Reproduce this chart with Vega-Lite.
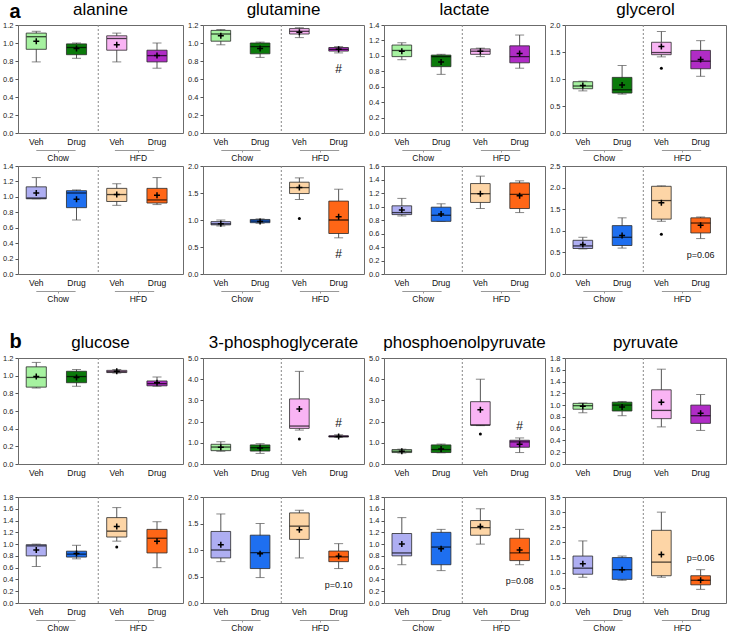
{
"$schema":"https://vega.github.io/schema/vega-lite/v6.json",
"padding":{"left":2,"top":0,"right":0,"bottom":0},
"data":{"values":[
{"m":"alanine","s":"1","g":"Chow Veh","min":0.79,"q1":0.93,"med":1.07,"q3":1.11,"max":1.13,"mean":1.02},
{"m":"alanine","s":"1","g":"Chow Drug","min":0.83,"q1":0.87,"med":0.95,"q3":0.99,"max":1.0,"mean":0.94},
{"m":"alanine","s":"1","g":"HFD Veh","min":0.79,"q1":0.92,"med":1.05,"q3":1.08,"max":1.11,"mean":0.98},
{"m":"alanine","s":"1","g":"HFD Drug","min":0.72,"q1":0.79,"med":0.86,"q3":0.92,"max":1.0,"mean":0.86},
{"m":"glutamine","s":"1","g":"Chow Veh","min":0.98,"q1":1.02,"med":1.1,"q3":1.14,"max":1.15,"mean":1.08},
{"m":"glutamine","s":"1","g":"Chow Drug","min":0.84,"q1":0.88,"med":0.96,"q3":1.0,"max":1.01,"mean":0.94},
{"m":"glutamine","s":"1","g":"HFD Veh","min":1.06,"q1":1.1,"med":1.13,"q3":1.16,"max":1.17,"mean":1.12},
{"m":"glutamine","s":"1","g":"HFD Drug","min":0.89,"q1":0.91,"med":0.93,"q3":0.95,"max":0.96,"mean":0.93,"nb":"#"},
{"m":"lactate","s":"1","g":"Chow Veh","min":0.95,"q1":0.99,"med":1.07,"q3":1.14,"max":1.17,"mean":1.06},
{"m":"lactate","s":"1","g":"Chow Drug","min":0.76,"q1":0.86,"med":0.99,"q3":1.01,"max":1.02,"mean":0.92},
{"m":"lactate","s":"1","g":"HFD Veh","min":0.99,"q1":1.02,"med":1.06,"q3":1.09,"max":1.1,"mean":1.06},
{"m":"lactate","s":"1","g":"HFD Drug","min":0.84,"q1":0.91,"med":0.99,"q3":1.13,"max":1.27,"mean":1.03},
{"m":"glycerol","s":"1","g":"Chow Veh","min":0.78,"q1":0.82,"med":0.87,"q3":0.95,"max":0.96,"mean":0.88},
{"m":"glycerol","s":"1","g":"Chow Drug","min":0.72,"q1":0.74,"med":0.8,"q3":1.03,"max":1.25,"mean":0.89},
{"m":"glycerol","s":"1","g":"HFD Veh","min":1.41,"q1":1.45,"med":1.49,"q3":1.68,"max":1.88,"mean":1.6,"out":1.2},
{"m":"glycerol","s":"1","g":"HFD Drug","min":1.05,"q1":1.19,"med":1.33,"q3":1.53,"max":1.71,"mean":1.36},
{"m":"alanine","s":"2","g":"Chow Veh","min":0.975,"q1":0.975,"med":0.985,"q3":1.13,"max":1.25,"mean":1.05},
{"m":"alanine","s":"2","g":"Chow Drug","min":0.7,"q1":0.86,"med":1.05,"q3":1.08,"max":1.09,"mean":0.97},
{"m":"alanine","s":"2","g":"HFD Veh","min":0.89,"q1":0.94,"med":1.03,"q3":1.11,"max":1.17,"mean":1.03},
{"m":"alanine","s":"2","g":"HFD Drug","min":0.9,"q1":0.92,"med":0.96,"q3":1.11,"max":1.25,"mean":1.02},
{"m":"glutamine","s":"2","g":"Chow Veh","min":0.89,"q1":0.91,"med":0.93,"q3":0.97,"max":1.0,"mean":0.93},
{"m":"glutamine","s":"2","g":"Chow Drug","min":0.94,"q1":0.95,"med":0.98,"q3":1.01,"max":1.02,"mean":0.97},
{"m":"glutamine","s":"2","g":"HFD Veh","min":1.38,"q1":1.49,"med":1.6,"q3":1.7,"max":1.78,"mean":1.6,"out":1.03},
{"m":"glutamine","s":"2","g":"HFD Drug","min":0.67,"q1":0.75,"med":1.0,"q3":1.35,"max":1.57,"mean":1.06,"nb":"#"},
{"m":"lactate","s":"2","g":"Chow Veh","min":0.86,"q1":0.88,"med":0.91,"q3":1.01,"max":1.12,"mean":0.95},
{"m":"lactate","s":"2","g":"Chow Drug","min":0.78,"q1":0.78,"med":0.87,"q3":0.99,"max":1.04,"mean":0.89},
{"m":"lactate","s":"2","g":"HFD Veh","min":0.97,"q1":1.06,"med":1.19,"q3":1.34,"max":1.45,"mean":1.19},
{"m":"lactate","s":"2","g":"HFD Drug","min":0.91,"q1":0.97,"med":1.18,"q3":1.35,"max":1.38,"mean":1.16},
{"m":"glycerol","s":"2","g":"Chow Veh","min":0.58,"q1":0.59,"med":0.65,"q3":0.78,"max":0.85,"mean":0.68},
{"m":"glycerol","s":"2","g":"Chow Drug","min":0.6,"q1":0.66,"med":0.85,"q3":1.12,"max":1.3,"mean":0.89},
{"m":"glycerol","s":"2","g":"HFD Veh","min":1.22,"q1":1.27,"med":1.7,"q3":2.03,"max":2.04,"mean":1.65,"out":0.92},
{"m":"glycerol","s":"2","g":"HFD Drug","min":0.82,"q1":0.95,"med":1.18,"q3":1.3,"max":1.32,"mean":1.13,"nb":"p=0.06"},
{"m":"glucose","s":"1","g":"Chow Veh","min":0.86,"q1":0.87,"med":0.98,"q3":1.1,"max":1.15,"mean":0.99},
{"m":"glucose","s":"1","g":"Chow Drug","min":0.88,"q1":0.92,"med":0.99,"q3":1.05,"max":1.07,"mean":0.98},
{"m":"glucose","s":"1","g":"HFD Veh","min":1.03,"q1":1.035,"med":1.045,"q3":1.06,"max":1.07,"mean":1.05},
{"m":"glucose","s":"1","g":"HFD Drug","min":0.88,"q1":0.885,"med":0.91,"q3":0.94,"max":0.985,"mean":0.92},
{"m":"3-phosphoglycerate","s":"1","g":"Chow Veh","min":0.6,"q1":0.63,"med":0.8,"q3":0.93,"max":1.05,"mean":0.79},
{"m":"3-phosphoglycerate","s":"1","g":"Chow Drug","min":0.5,"q1":0.61,"med":0.77,"q3":0.9,"max":0.96,"mean":0.75},
{"m":"3-phosphoglycerate","s":"1","g":"HFD Veh","min":1.6,"q1":1.68,"med":1.79,"q3":3.07,"max":4.37,"mean":2.59,"out":1.18},
{"m":"3-phosphoglycerate","s":"1","g":"HFD Drug","min":1.26,"q1":1.27,"med":1.3,"q3":1.33,"max":1.38,"mean":1.3,"na":"#"},
{"m":"phosphoenolpyruvate","s":"1","g":"Chow Veh","min":0.52,"q1":0.54,"med":0.6,"q3":0.68,"max":0.7,"mean":0.6},
{"m":"phosphoenolpyruvate","s":"1","g":"Chow Drug","min":0.53,"q1":0.54,"med":0.68,"q3":0.9,"max":0.94,"mean":0.71},
{"m":"phosphoenolpyruvate","s":"1","g":"HFD Veh","min":1.81,"q1":1.83,"med":1.84,"q3":2.94,"max":4.0,"mean":2.56,"out":1.42},
{"m":"phosphoenolpyruvate","s":"1","g":"HFD Drug","min":0.54,"q1":0.79,"med":1.04,"q3":1.12,"max":1.23,"mean":0.93,"na":"#"},
{"m":"pyruvate","s":"1","g":"Chow Veh","min":0.87,"q1":0.93,"med":0.99,"q3":1.03,"max":1.035,"mean":0.98},
{"m":"pyruvate","s":"1","g":"Chow Drug","min":0.82,"q1":0.9,"med":1.0,"q3":1.05,"max":1.06,"mean":0.97},
{"m":"pyruvate","s":"1","g":"HFD Veh","min":0.63,"q1":0.77,"med":0.91,"q3":1.26,"max":1.61,"mean":1.05},
{"m":"pyruvate","s":"1","g":"HFD Drug","min":0.57,"q1":0.69,"med":0.82,"q3":1.0,"max":1.18,"mean":0.86},
{"m":"glucose","s":"2","g":"Chow Veh","min":0.62,"q1":0.8,"med":0.97,"q3":0.99,"max":1.0,"mean":0.9},
{"m":"glucose","s":"2","g":"Chow Drug","min":0.75,"q1":0.78,"med":0.83,"q3":0.88,"max":0.98,"mean":0.84},
{"m":"glucose","s":"2","g":"HFD Veh","min":1.05,"q1":1.12,"med":1.22,"q3":1.45,"max":1.62,"mean":1.3,"out":0.95},
{"m":"glucose","s":"2","g":"HFD Drug","min":0.6,"q1":0.85,"med":1.1,"q3":1.25,"max":1.38,"mean":1.05},
{"m":"3-phosphoglycerate","s":"2","g":"Chow Veh","min":0.78,"q1":0.85,"med":1.0,"q3":1.35,"max":1.68,"mean":1.1},
{"m":"3-phosphoglycerate","s":"2","g":"Chow Drug","min":0.48,"q1":0.65,"med":0.95,"q3":1.28,"max":1.5,"mean":0.93},
{"m":"3-phosphoglycerate","s":"2","g":"HFD Veh","min":0.85,"q1":1.2,"med":1.45,"q3":1.7,"max":1.75,"mean":1.38},
{"m":"3-phosphoglycerate","s":"2","g":"HFD Drug","min":0.65,"q1":0.78,"med":0.87,"q3":0.98,"max":1.12,"mean":0.88,"nb":"p=0.10"},
{"m":"phosphoenolpyruvate","s":"2","g":"Chow Veh","min":0.65,"q1":0.8,"med":0.85,"q3":1.18,"max":1.45,"mean":1.0},
{"m":"phosphoenolpyruvate","s":"2","g":"Chow Drug","min":0.55,"q1":0.65,"med":0.95,"q3":1.2,"max":1.25,"mean":0.92},
{"m":"phosphoenolpyruvate","s":"2","g":"HFD Veh","min":1.0,"q1":1.15,"med":1.28,"q3":1.4,"max":1.6,"mean":1.3},
{"m":"phosphoenolpyruvate","s":"2","g":"HFD Drug","min":0.65,"q1":0.72,"med":0.85,"q3":1.1,"max":1.25,"mean":0.9,"nb":"p=0.08"},
{"m":"pyruvate","s":"2","g":"Chow Veh","min":0.85,"q1":0.95,"med":1.15,"q3":1.55,"max":2.05,"mean":1.3},
{"m":"pyruvate","s":"2","g":"Chow Drug","min":0.75,"q1":0.78,"med":1.1,"q3":1.5,"max":1.55,"mean":1.1},
{"m":"pyruvate","s":"2","g":"HFD Veh","min":0.85,"q1":0.9,"med":1.35,"q3":2.4,"max":3.0,"mean":1.6},
{"m":"pyruvate","s":"2","g":"HFD Drug","min":0.45,"q1":0.6,"med":0.75,"q3":0.9,"max":1.1,"mean":0.75,"na":"p=0.06"}
]},
"transform":[{"calculate":"datum.s + ' ' + datum.g","as":"ck"}],
"columns":4,
"spacing":{"row":33,"column":20},
"bounds":"flush",
"resolve":{"scale":{"x":"independent","y":"independent"}},
"concat":[
{"width":165,"height":108,"title":{"text":"alanine","dy":20},"transform":[{"filter":"datum.m==='alanine'&&datum.s==='1'"}],"resolve":{"scale":{"x":"independent"}},"layer":[
{"transform":[{"filter":"datum.g==='Chow Veh'"}],"mark":{"type":"rule","strokeDash":[2,2],"color":"#888"},"encoding":{"x":{"datum":"HFD","type":"nominal","bandPosition":0,"scale":{"domain":["Chow","HFD"],"paddingInner":0,"paddingOuter":0.028,"align":0},"axis":{"orient":"bottom","offset":17,"domain":true,"domainColor":"#999","domainDash":[39.3,39.3],"domainDashOffset":60.8,"ticks":true,"tickSize":2,"tickColor":"#999","labelPadding":1,"title":null}}}},
{"encoding":{"x":{"field":"g","type":"nominal","scale":{"domain":["Chow Veh","Chow Drug","HFD Veh","HFD Drug"],"paddingInner":0.5,"paddingOuter":0.3,"align":0.34},"axis":{"orient":"bottom","labelExpr":"replace(replace(datum.label,'Chow ',''),'HFD ','')","title":null}}},"layer":[
{"mark":{"type":"rule","color":"#555"},"encoding":{"y":{"field":"min","type":"quantitative"},"y2":{"field":"max"}}},
{"mark":{"type":"tick","color":"#555","size":9},"encoding":{"y":{"field":"min","type":"quantitative"}}},
{"mark":{"type":"tick","color":"#555","size":9},"encoding":{"y":{"field":"max","type":"quantitative"}}},
{"mark":{"type":"bar","stroke":"#2a2a2a","strokeWidth":0.8},"encoding":{"y":{"field":"q1","type":"quantitative","scale":{"domain":[0,1.2],"nice":false},"axis":{"orient":"left","values":[0,0.2,0.4,0.6,0.8,1,1.2],"tickCount":20,"format":".1f","title":"a","titleAngle":0,"titleX":-9,"titleY":-8,"titleAlign":"left","titleBaseline":"alphabetic","titleFontSize":20,"titleFontWeight":"bold","titleColor":"#000"}},"y2":{"field":"q3"},"color":{"field":"ck","type":"nominal","scale":{"domain":["1 Chow Veh","1 Chow Drug","1 HFD Veh","1 HFD Drug","2 Chow Veh","2 Chow Drug","2 HFD Veh","2 HFD Drug"],"range":["#a6f2a0","#0b7a0b","#f9b4f4","#b02cc6","#aeaef2","#1e6ff0","#fdd5a6","#ff6616"]},"legend":null}}},
{"mark":{"type":"tick","color":"#000","size":19.5,"thickness":1.3},"encoding":{"y":{"field":"med","type":"quantitative"}}},
{"mark":{"type":"point","shape":"M-1,0H1M0,-1V1","filled":false,"color":"#000","strokeWidth":1.5,"size":36,"opacity":1},"encoding":{"y":{"field":"mean","type":"quantitative"}}},
{"mark":{"type":"point","shape":"circle","filled":true,"color":"#000","size":9,"opacity":1},"encoding":{"y":{"field":"out","type":"quantitative"}}},
{"transform":[{"filter":"isValid(datum.nb)"}],"mark":{"type":"text","dy":16,"baseline":"middle","color":"#111"},"encoding":{"y":{"field":"min","type":"quantitative"},"text":{"field":"nb"},"size":{"condition":{"test":"datum.nb==='#'","value":12},"value":9}}},
{"transform":[{"filter":"isValid(datum.na)"}],"mark":{"type":"text","dy":-12,"baseline":"middle","color":"#111"},"encoding":{"y":{"field":"max","type":"quantitative"},"text":{"field":"na"},"size":{"condition":{"test":"datum.na==='#'","value":12},"value":9}}}
]}]},
{"width":161,"height":108,"title":"glutamine","transform":[{"filter":"datum.m==='glutamine'&&datum.s==='1'"}],"resolve":{"scale":{"x":"independent"}},"layer":[
{"transform":[{"filter":"datum.g==='Chow Veh'"}],"mark":{"type":"rule","strokeDash":[2,2],"color":"#888"},"encoding":{"x":{"datum":"HFD","type":"nominal","bandPosition":0,"scale":{"domain":["Chow","HFD"],"paddingInner":0,"paddingOuter":0.028,"align":0},"axis":{"orient":"bottom","offset":17,"domain":true,"domainColor":"#999","domainDash":[39.3,39.3],"domainDashOffset":60.8,"ticks":true,"tickSize":2,"tickColor":"#999","labelPadding":1,"title":null}}}},
{"encoding":{"x":{"field":"g","type":"nominal","scale":{"domain":["Chow Veh","Chow Drug","HFD Veh","HFD Drug"],"paddingInner":0.5,"paddingOuter":0.3,"align":0.34},"axis":{"orient":"bottom","labelExpr":"replace(replace(datum.label,'Chow ',''),'HFD ','')","title":null}}},"layer":[
{"mark":{"type":"rule","color":"#555"},"encoding":{"y":{"field":"min","type":"quantitative"},"y2":{"field":"max"}}},
{"mark":{"type":"tick","color":"#555","size":9},"encoding":{"y":{"field":"min","type":"quantitative"}}},
{"mark":{"type":"tick","color":"#555","size":9},"encoding":{"y":{"field":"max","type":"quantitative"}}},
{"mark":{"type":"bar","stroke":"#2a2a2a","strokeWidth":0.8},"encoding":{"y":{"field":"q1","type":"quantitative","scale":{"domain":[0,1.2],"nice":false},"axis":{"orient":"left","values":[0,0.2,0.4,0.6,0.8,1,1.2],"tickCount":20,"format":".1f","title":null}},"y2":{"field":"q3"},"color":{"field":"ck","type":"nominal","scale":{"domain":["1 Chow Veh","1 Chow Drug","1 HFD Veh","1 HFD Drug","2 Chow Veh","2 Chow Drug","2 HFD Veh","2 HFD Drug"],"range":["#a6f2a0","#0b7a0b","#f9b4f4","#b02cc6","#aeaef2","#1e6ff0","#fdd5a6","#ff6616"]},"legend":null}}},
{"mark":{"type":"tick","color":"#000","size":19.5,"thickness":1.3},"encoding":{"y":{"field":"med","type":"quantitative"}}},
{"mark":{"type":"point","shape":"M-1,0H1M0,-1V1","filled":false,"color":"#000","strokeWidth":1.5,"size":36,"opacity":1},"encoding":{"y":{"field":"mean","type":"quantitative"}}},
{"mark":{"type":"point","shape":"circle","filled":true,"color":"#000","size":9,"opacity":1},"encoding":{"y":{"field":"out","type":"quantitative"}}},
{"transform":[{"filter":"isValid(datum.nb)"}],"mark":{"type":"text","dy":16,"baseline":"middle","color":"#111"},"encoding":{"y":{"field":"min","type":"quantitative"},"text":{"field":"nb"},"size":{"condition":{"test":"datum.nb==='#'","value":12},"value":9}}},
{"transform":[{"filter":"isValid(datum.na)"}],"mark":{"type":"text","dy":-12,"baseline":"middle","color":"#111"},"encoding":{"y":{"field":"max","type":"quantitative"},"text":{"field":"na"},"size":{"condition":{"test":"datum.na==='#'","value":12},"value":9}}}
]}]},
{"width":161,"height":108,"title":"lactate","transform":[{"filter":"datum.m==='lactate'&&datum.s==='1'"}],"resolve":{"scale":{"x":"independent"}},"layer":[
{"transform":[{"filter":"datum.g==='Chow Veh'"}],"mark":{"type":"rule","strokeDash":[2,2],"color":"#888"},"encoding":{"x":{"datum":"HFD","type":"nominal","bandPosition":0,"scale":{"domain":["Chow","HFD"],"paddingInner":0,"paddingOuter":0.028,"align":0},"axis":{"orient":"bottom","offset":17,"domain":true,"domainColor":"#999","domainDash":[39.3,39.3],"domainDashOffset":60.8,"ticks":true,"tickSize":2,"tickColor":"#999","labelPadding":1,"title":null}}}},
{"encoding":{"x":{"field":"g","type":"nominal","scale":{"domain":["Chow Veh","Chow Drug","HFD Veh","HFD Drug"],"paddingInner":0.5,"paddingOuter":0.3,"align":0.34},"axis":{"orient":"bottom","labelExpr":"replace(replace(datum.label,'Chow ',''),'HFD ','')","title":null}}},"layer":[
{"mark":{"type":"rule","color":"#555"},"encoding":{"y":{"field":"min","type":"quantitative"},"y2":{"field":"max"}}},
{"mark":{"type":"tick","color":"#555","size":9},"encoding":{"y":{"field":"min","type":"quantitative"}}},
{"mark":{"type":"tick","color":"#555","size":9},"encoding":{"y":{"field":"max","type":"quantitative"}}},
{"mark":{"type":"bar","stroke":"#2a2a2a","strokeWidth":0.8},"encoding":{"y":{"field":"q1","type":"quantitative","scale":{"domain":[0,1.4],"nice":false},"axis":{"orient":"left","values":[0,0.2,0.4,0.6,0.8,1,1.2,1.4],"tickCount":20,"format":".1f","title":null}},"y2":{"field":"q3"},"color":{"field":"ck","type":"nominal","scale":{"domain":["1 Chow Veh","1 Chow Drug","1 HFD Veh","1 HFD Drug","2 Chow Veh","2 Chow Drug","2 HFD Veh","2 HFD Drug"],"range":["#a6f2a0","#0b7a0b","#f9b4f4","#b02cc6","#aeaef2","#1e6ff0","#fdd5a6","#ff6616"]},"legend":null}}},
{"mark":{"type":"tick","color":"#000","size":19.5,"thickness":1.3},"encoding":{"y":{"field":"med","type":"quantitative"}}},
{"mark":{"type":"point","shape":"M-1,0H1M0,-1V1","filled":false,"color":"#000","strokeWidth":1.5,"size":36,"opacity":1},"encoding":{"y":{"field":"mean","type":"quantitative"}}},
{"mark":{"type":"point","shape":"circle","filled":true,"color":"#000","size":9,"opacity":1},"encoding":{"y":{"field":"out","type":"quantitative"}}},
{"transform":[{"filter":"isValid(datum.nb)"}],"mark":{"type":"text","dy":16,"baseline":"middle","color":"#111"},"encoding":{"y":{"field":"min","type":"quantitative"},"text":{"field":"nb"},"size":{"condition":{"test":"datum.nb==='#'","value":12},"value":9}}},
{"transform":[{"filter":"isValid(datum.na)"}],"mark":{"type":"text","dy":-12,"baseline":"middle","color":"#111"},"encoding":{"y":{"field":"max","type":"quantitative"},"text":{"field":"na"},"size":{"condition":{"test":"datum.na==='#'","value":12},"value":9}}}
]}]},
{"width":161,"height":108,"title":"glycerol","transform":[{"filter":"datum.m==='glycerol'&&datum.s==='1'"}],"resolve":{"scale":{"x":"independent"}},"layer":[
{"transform":[{"filter":"datum.g==='Chow Veh'"}],"mark":{"type":"rule","strokeDash":[2,2],"color":"#888"},"encoding":{"x":{"datum":"HFD","type":"nominal","bandPosition":0,"scale":{"domain":["Chow","HFD"],"paddingInner":0,"paddingOuter":0.028,"align":0},"axis":{"orient":"bottom","offset":17,"domain":true,"domainColor":"#999","domainDash":[39.3,39.3],"domainDashOffset":60.8,"ticks":true,"tickSize":2,"tickColor":"#999","labelPadding":1,"title":null}}}},
{"encoding":{"x":{"field":"g","type":"nominal","scale":{"domain":["Chow Veh","Chow Drug","HFD Veh","HFD Drug"],"paddingInner":0.5,"paddingOuter":0.3,"align":0.34},"axis":{"orient":"bottom","labelExpr":"replace(replace(datum.label,'Chow ',''),'HFD ','')","title":null}}},"layer":[
{"mark":{"type":"rule","color":"#555"},"encoding":{"y":{"field":"min","type":"quantitative"},"y2":{"field":"max"}}},
{"mark":{"type":"tick","color":"#555","size":9},"encoding":{"y":{"field":"min","type":"quantitative"}}},
{"mark":{"type":"tick","color":"#555","size":9},"encoding":{"y":{"field":"max","type":"quantitative"}}},
{"mark":{"type":"bar","stroke":"#2a2a2a","strokeWidth":0.8},"encoding":{"y":{"field":"q1","type":"quantitative","scale":{"domain":[0,2],"nice":false},"axis":{"orient":"left","values":[0,0.5,1,1.5,2],"tickCount":20,"format":".1f","title":null}},"y2":{"field":"q3"},"color":{"field":"ck","type":"nominal","scale":{"domain":["1 Chow Veh","1 Chow Drug","1 HFD Veh","1 HFD Drug","2 Chow Veh","2 Chow Drug","2 HFD Veh","2 HFD Drug"],"range":["#a6f2a0","#0b7a0b","#f9b4f4","#b02cc6","#aeaef2","#1e6ff0","#fdd5a6","#ff6616"]},"legend":null}}},
{"mark":{"type":"tick","color":"#000","size":19.5,"thickness":1.3},"encoding":{"y":{"field":"med","type":"quantitative"}}},
{"mark":{"type":"point","shape":"M-1,0H1M0,-1V1","filled":false,"color":"#000","strokeWidth":1.5,"size":36,"opacity":1},"encoding":{"y":{"field":"mean","type":"quantitative"}}},
{"mark":{"type":"point","shape":"circle","filled":true,"color":"#000","size":9,"opacity":1},"encoding":{"y":{"field":"out","type":"quantitative"}}},
{"transform":[{"filter":"isValid(datum.nb)"}],"mark":{"type":"text","dy":16,"baseline":"middle","color":"#111"},"encoding":{"y":{"field":"min","type":"quantitative"},"text":{"field":"nb"},"size":{"condition":{"test":"datum.nb==='#'","value":12},"value":9}}},
{"transform":[{"filter":"isValid(datum.na)"}],"mark":{"type":"text","dy":-12,"baseline":"middle","color":"#111"},"encoding":{"y":{"field":"max","type":"quantitative"},"text":{"field":"na"},"size":{"condition":{"test":"datum.na==='#'","value":12},"value":9}}}
]}]},
{"width":165,"height":108,"transform":[{"filter":"datum.m==='alanine'&&datum.s==='2'"}],"resolve":{"scale":{"x":"independent"}},"layer":[
{"transform":[{"filter":"datum.g==='Chow Veh'"}],"mark":{"type":"rule","strokeDash":[2,2],"color":"#888"},"encoding":{"x":{"datum":"HFD","type":"nominal","bandPosition":0,"scale":{"domain":["Chow","HFD"],"paddingInner":0,"paddingOuter":0.028,"align":0},"axis":{"orient":"bottom","offset":17,"domain":true,"domainColor":"#999","domainDash":[39.3,39.3],"domainDashOffset":60.8,"ticks":true,"tickSize":2,"tickColor":"#999","labelPadding":1,"title":null}}}},
{"encoding":{"x":{"field":"g","type":"nominal","scale":{"domain":["Chow Veh","Chow Drug","HFD Veh","HFD Drug"],"paddingInner":0.5,"paddingOuter":0.3,"align":0.34},"axis":{"orient":"bottom","labelExpr":"replace(replace(datum.label,'Chow ',''),'HFD ','')","title":null}}},"layer":[
{"mark":{"type":"rule","color":"#555"},"encoding":{"y":{"field":"min","type":"quantitative"},"y2":{"field":"max"}}},
{"mark":{"type":"tick","color":"#555","size":9},"encoding":{"y":{"field":"min","type":"quantitative"}}},
{"mark":{"type":"tick","color":"#555","size":9},"encoding":{"y":{"field":"max","type":"quantitative"}}},
{"mark":{"type":"bar","stroke":"#2a2a2a","strokeWidth":0.8},"encoding":{"y":{"field":"q1","type":"quantitative","scale":{"domain":[0,1.4],"nice":false},"axis":{"orient":"left","values":[0,0.2,0.4,0.6,0.8,1,1.2,1.4],"tickCount":20,"format":".1f","title":null}},"y2":{"field":"q3"},"color":{"field":"ck","type":"nominal","scale":{"domain":["1 Chow Veh","1 Chow Drug","1 HFD Veh","1 HFD Drug","2 Chow Veh","2 Chow Drug","2 HFD Veh","2 HFD Drug"],"range":["#a6f2a0","#0b7a0b","#f9b4f4","#b02cc6","#aeaef2","#1e6ff0","#fdd5a6","#ff6616"]},"legend":null}}},
{"mark":{"type":"tick","color":"#000","size":19.5,"thickness":1.3},"encoding":{"y":{"field":"med","type":"quantitative"}}},
{"mark":{"type":"point","shape":"M-1,0H1M0,-1V1","filled":false,"color":"#000","strokeWidth":1.5,"size":36,"opacity":1},"encoding":{"y":{"field":"mean","type":"quantitative"}}},
{"mark":{"type":"point","shape":"circle","filled":true,"color":"#000","size":9,"opacity":1},"encoding":{"y":{"field":"out","type":"quantitative"}}},
{"transform":[{"filter":"isValid(datum.nb)"}],"mark":{"type":"text","dy":16,"baseline":"middle","color":"#111"},"encoding":{"y":{"field":"min","type":"quantitative"},"text":{"field":"nb"},"size":{"condition":{"test":"datum.nb==='#'","value":12},"value":9}}},
{"transform":[{"filter":"isValid(datum.na)"}],"mark":{"type":"text","dy":-12,"baseline":"middle","color":"#111"},"encoding":{"y":{"field":"max","type":"quantitative"},"text":{"field":"na"},"size":{"condition":{"test":"datum.na==='#'","value":12},"value":9}}}
]}]},
{"width":161,"height":108,"transform":[{"filter":"datum.m==='glutamine'&&datum.s==='2'"}],"resolve":{"scale":{"x":"independent"}},"layer":[
{"transform":[{"filter":"datum.g==='Chow Veh'"}],"mark":{"type":"rule","strokeDash":[2,2],"color":"#888"},"encoding":{"x":{"datum":"HFD","type":"nominal","bandPosition":0,"scale":{"domain":["Chow","HFD"],"paddingInner":0,"paddingOuter":0.028,"align":0},"axis":{"orient":"bottom","offset":17,"domain":true,"domainColor":"#999","domainDash":[39.3,39.3],"domainDashOffset":60.8,"ticks":true,"tickSize":2,"tickColor":"#999","labelPadding":1,"title":null}}}},
{"encoding":{"x":{"field":"g","type":"nominal","scale":{"domain":["Chow Veh","Chow Drug","HFD Veh","HFD Drug"],"paddingInner":0.5,"paddingOuter":0.3,"align":0.34},"axis":{"orient":"bottom","labelExpr":"replace(replace(datum.label,'Chow ',''),'HFD ','')","title":null}}},"layer":[
{"mark":{"type":"rule","color":"#555"},"encoding":{"y":{"field":"min","type":"quantitative"},"y2":{"field":"max"}}},
{"mark":{"type":"tick","color":"#555","size":9},"encoding":{"y":{"field":"min","type":"quantitative"}}},
{"mark":{"type":"tick","color":"#555","size":9},"encoding":{"y":{"field":"max","type":"quantitative"}}},
{"mark":{"type":"bar","stroke":"#2a2a2a","strokeWidth":0.8},"encoding":{"y":{"field":"q1","type":"quantitative","scale":{"domain":[0,2],"nice":false},"axis":{"orient":"left","values":[0,0.5,1,1.5,2],"tickCount":20,"format":".1f","title":null}},"y2":{"field":"q3"},"color":{"field":"ck","type":"nominal","scale":{"domain":["1 Chow Veh","1 Chow Drug","1 HFD Veh","1 HFD Drug","2 Chow Veh","2 Chow Drug","2 HFD Veh","2 HFD Drug"],"range":["#a6f2a0","#0b7a0b","#f9b4f4","#b02cc6","#aeaef2","#1e6ff0","#fdd5a6","#ff6616"]},"legend":null}}},
{"mark":{"type":"tick","color":"#000","size":19.5,"thickness":1.3},"encoding":{"y":{"field":"med","type":"quantitative"}}},
{"mark":{"type":"point","shape":"M-1,0H1M0,-1V1","filled":false,"color":"#000","strokeWidth":1.5,"size":36,"opacity":1},"encoding":{"y":{"field":"mean","type":"quantitative"}}},
{"mark":{"type":"point","shape":"circle","filled":true,"color":"#000","size":9,"opacity":1},"encoding":{"y":{"field":"out","type":"quantitative"}}},
{"transform":[{"filter":"isValid(datum.nb)"}],"mark":{"type":"text","dy":16,"baseline":"middle","color":"#111"},"encoding":{"y":{"field":"min","type":"quantitative"},"text":{"field":"nb"},"size":{"condition":{"test":"datum.nb==='#'","value":12},"value":9}}},
{"transform":[{"filter":"isValid(datum.na)"}],"mark":{"type":"text","dy":-12,"baseline":"middle","color":"#111"},"encoding":{"y":{"field":"max","type":"quantitative"},"text":{"field":"na"},"size":{"condition":{"test":"datum.na==='#'","value":12},"value":9}}}
]}]},
{"width":161,"height":108,"transform":[{"filter":"datum.m==='lactate'&&datum.s==='2'"}],"resolve":{"scale":{"x":"independent"}},"layer":[
{"transform":[{"filter":"datum.g==='Chow Veh'"}],"mark":{"type":"rule","strokeDash":[2,2],"color":"#888"},"encoding":{"x":{"datum":"HFD","type":"nominal","bandPosition":0,"scale":{"domain":["Chow","HFD"],"paddingInner":0,"paddingOuter":0.028,"align":0},"axis":{"orient":"bottom","offset":17,"domain":true,"domainColor":"#999","domainDash":[39.3,39.3],"domainDashOffset":60.8,"ticks":true,"tickSize":2,"tickColor":"#999","labelPadding":1,"title":null}}}},
{"encoding":{"x":{"field":"g","type":"nominal","scale":{"domain":["Chow Veh","Chow Drug","HFD Veh","HFD Drug"],"paddingInner":0.5,"paddingOuter":0.3,"align":0.34},"axis":{"orient":"bottom","labelExpr":"replace(replace(datum.label,'Chow ',''),'HFD ','')","title":null}}},"layer":[
{"mark":{"type":"rule","color":"#555"},"encoding":{"y":{"field":"min","type":"quantitative"},"y2":{"field":"max"}}},
{"mark":{"type":"tick","color":"#555","size":9},"encoding":{"y":{"field":"min","type":"quantitative"}}},
{"mark":{"type":"tick","color":"#555","size":9},"encoding":{"y":{"field":"max","type":"quantitative"}}},
{"mark":{"type":"bar","stroke":"#2a2a2a","strokeWidth":0.8},"encoding":{"y":{"field":"q1","type":"quantitative","scale":{"domain":[0,1.6],"nice":false},"axis":{"orient":"left","values":[0,0.2,0.4,0.6,0.8,1,1.2,1.4,1.6],"tickCount":20,"format":".1f","title":null}},"y2":{"field":"q3"},"color":{"field":"ck","type":"nominal","scale":{"domain":["1 Chow Veh","1 Chow Drug","1 HFD Veh","1 HFD Drug","2 Chow Veh","2 Chow Drug","2 HFD Veh","2 HFD Drug"],"range":["#a6f2a0","#0b7a0b","#f9b4f4","#b02cc6","#aeaef2","#1e6ff0","#fdd5a6","#ff6616"]},"legend":null}}},
{"mark":{"type":"tick","color":"#000","size":19.5,"thickness":1.3},"encoding":{"y":{"field":"med","type":"quantitative"}}},
{"mark":{"type":"point","shape":"M-1,0H1M0,-1V1","filled":false,"color":"#000","strokeWidth":1.5,"size":36,"opacity":1},"encoding":{"y":{"field":"mean","type":"quantitative"}}},
{"mark":{"type":"point","shape":"circle","filled":true,"color":"#000","size":9,"opacity":1},"encoding":{"y":{"field":"out","type":"quantitative"}}},
{"transform":[{"filter":"isValid(datum.nb)"}],"mark":{"type":"text","dy":16,"baseline":"middle","color":"#111"},"encoding":{"y":{"field":"min","type":"quantitative"},"text":{"field":"nb"},"size":{"condition":{"test":"datum.nb==='#'","value":12},"value":9}}},
{"transform":[{"filter":"isValid(datum.na)"}],"mark":{"type":"text","dy":-12,"baseline":"middle","color":"#111"},"encoding":{"y":{"field":"max","type":"quantitative"},"text":{"field":"na"},"size":{"condition":{"test":"datum.na==='#'","value":12},"value":9}}}
]}]},
{"width":161,"height":108,"transform":[{"filter":"datum.m==='glycerol'&&datum.s==='2'"}],"resolve":{"scale":{"x":"independent"}},"layer":[
{"transform":[{"filter":"datum.g==='Chow Veh'"}],"mark":{"type":"rule","strokeDash":[2,2],"color":"#888"},"encoding":{"x":{"datum":"HFD","type":"nominal","bandPosition":0,"scale":{"domain":["Chow","HFD"],"paddingInner":0,"paddingOuter":0.028,"align":0},"axis":{"orient":"bottom","offset":17,"domain":true,"domainColor":"#999","domainDash":[39.3,39.3],"domainDashOffset":60.8,"ticks":true,"tickSize":2,"tickColor":"#999","labelPadding":1,"title":null}}}},
{"encoding":{"x":{"field":"g","type":"nominal","scale":{"domain":["Chow Veh","Chow Drug","HFD Veh","HFD Drug"],"paddingInner":0.5,"paddingOuter":0.3,"align":0.34},"axis":{"orient":"bottom","labelExpr":"replace(replace(datum.label,'Chow ',''),'HFD ','')","title":null}}},"layer":[
{"mark":{"type":"rule","color":"#555"},"encoding":{"y":{"field":"min","type":"quantitative"},"y2":{"field":"max"}}},
{"mark":{"type":"tick","color":"#555","size":9},"encoding":{"y":{"field":"min","type":"quantitative"}}},
{"mark":{"type":"tick","color":"#555","size":9},"encoding":{"y":{"field":"max","type":"quantitative"}}},
{"mark":{"type":"bar","stroke":"#2a2a2a","strokeWidth":0.8},"encoding":{"y":{"field":"q1","type":"quantitative","scale":{"domain":[0,2.5],"nice":false},"axis":{"orient":"left","values":[0,0.5,1,1.5,2,2.5],"tickCount":20,"format":".1f","title":null}},"y2":{"field":"q3"},"color":{"field":"ck","type":"nominal","scale":{"domain":["1 Chow Veh","1 Chow Drug","1 HFD Veh","1 HFD Drug","2 Chow Veh","2 Chow Drug","2 HFD Veh","2 HFD Drug"],"range":["#a6f2a0","#0b7a0b","#f9b4f4","#b02cc6","#aeaef2","#1e6ff0","#fdd5a6","#ff6616"]},"legend":null}}},
{"mark":{"type":"tick","color":"#000","size":19.5,"thickness":1.3},"encoding":{"y":{"field":"med","type":"quantitative"}}},
{"mark":{"type":"point","shape":"M-1,0H1M0,-1V1","filled":false,"color":"#000","strokeWidth":1.5,"size":36,"opacity":1},"encoding":{"y":{"field":"mean","type":"quantitative"}}},
{"mark":{"type":"point","shape":"circle","filled":true,"color":"#000","size":9,"opacity":1},"encoding":{"y":{"field":"out","type":"quantitative"}}},
{"transform":[{"filter":"isValid(datum.nb)"}],"mark":{"type":"text","dy":16,"baseline":"middle","color":"#111"},"encoding":{"y":{"field":"min","type":"quantitative"},"text":{"field":"nb"},"size":{"condition":{"test":"datum.nb==='#'","value":12},"value":9}}},
{"transform":[{"filter":"isValid(datum.na)"}],"mark":{"type":"text","dy":-12,"baseline":"middle","color":"#111"},"encoding":{"y":{"field":"max","type":"quantitative"},"text":{"field":"na"},"size":{"condition":{"test":"datum.na==='#'","value":12},"value":9}}}
]}]},
{"width":165,"height":18,"view":{"stroke":null},"transform":[{"filter":"false"}],"mark":"point","encoding":{}},
{"width":161,"height":18,"view":{"stroke":null},"transform":[{"filter":"false"}],"mark":"point","encoding":{}},
{"width":161,"height":18,"view":{"stroke":null},"transform":[{"filter":"false"}],"mark":"point","encoding":{}},
{"width":161,"height":18,"view":{"stroke":null},"transform":[{"filter":"false"}],"mark":"point","encoding":{}},
{"width":165,"height":106,"title":{"text":"glucose","dy":23},"transform":[{"filter":"datum.m==='glucose'&&datum.s==='1'"}],"resolve":{"scale":{"x":"independent"}},"layer":[
{"transform":[{"filter":"datum.g==='Chow Veh'"}],"mark":{"type":"rule","strokeDash":[2,2],"color":"#888"},"encoding":{"x":{"datum":"HFD","type":"nominal","bandPosition":0,"scale":{"domain":["Chow","HFD"],"paddingInner":0,"paddingOuter":0.028,"align":0},"axis":null}}},
{"encoding":{"x":{"field":"g","type":"nominal","scale":{"domain":["Chow Veh","Chow Drug","HFD Veh","HFD Drug"],"paddingInner":0.5,"paddingOuter":0.3,"align":0.34},"axis":{"orient":"bottom","labelExpr":"replace(replace(datum.label,'Chow ',''),'HFD ','')","title":null}}},"layer":[
{"mark":{"type":"rule","color":"#555"},"encoding":{"y":{"field":"min","type":"quantitative"},"y2":{"field":"max"}}},
{"mark":{"type":"tick","color":"#555","size":9},"encoding":{"y":{"field":"min","type":"quantitative"}}},
{"mark":{"type":"tick","color":"#555","size":9},"encoding":{"y":{"field":"max","type":"quantitative"}}},
{"mark":{"type":"bar","stroke":"#2a2a2a","strokeWidth":0.8},"encoding":{"y":{"field":"q1","type":"quantitative","scale":{"domain":[0,1.2],"nice":false},"axis":{"orient":"left","values":[0,0.2,0.4,0.6,0.8,1,1.2],"tickCount":20,"format":".1f","title":"b","titleAngle":0,"titleX":-9,"titleY":-11,"titleAlign":"left","titleBaseline":"alphabetic","titleFontSize":20,"titleFontWeight":"bold","titleColor":"#000"}},"y2":{"field":"q3"},"color":{"field":"ck","type":"nominal","scale":{"domain":["1 Chow Veh","1 Chow Drug","1 HFD Veh","1 HFD Drug","2 Chow Veh","2 Chow Drug","2 HFD Veh","2 HFD Drug"],"range":["#a6f2a0","#0b7a0b","#f9b4f4","#b02cc6","#aeaef2","#1e6ff0","#fdd5a6","#ff6616"]},"legend":null}}},
{"mark":{"type":"tick","color":"#000","size":19.5,"thickness":1.3},"encoding":{"y":{"field":"med","type":"quantitative"}}},
{"mark":{"type":"point","shape":"M-1,0H1M0,-1V1","filled":false,"color":"#000","strokeWidth":1.5,"size":36,"opacity":1},"encoding":{"y":{"field":"mean","type":"quantitative"}}},
{"mark":{"type":"point","shape":"circle","filled":true,"color":"#000","size":9,"opacity":1},"encoding":{"y":{"field":"out","type":"quantitative"}}},
{"transform":[{"filter":"isValid(datum.nb)"}],"mark":{"type":"text","dy":16,"baseline":"middle","color":"#111"},"encoding":{"y":{"field":"min","type":"quantitative"},"text":{"field":"nb"},"size":{"condition":{"test":"datum.nb==='#'","value":12},"value":9}}},
{"transform":[{"filter":"isValid(datum.na)"}],"mark":{"type":"text","dy":-12,"baseline":"middle","color":"#111"},"encoding":{"y":{"field":"max","type":"quantitative"},"text":{"field":"na"},"size":{"condition":{"test":"datum.na==='#'","value":12},"value":9}}}
]}]},
{"width":161,"height":106,"title":"3-phosphoglycerate","transform":[{"filter":"datum.m==='3-phosphoglycerate'&&datum.s==='1'"}],"resolve":{"scale":{"x":"independent"}},"layer":[
{"transform":[{"filter":"datum.g==='Chow Veh'"}],"mark":{"type":"rule","strokeDash":[2,2],"color":"#888"},"encoding":{"x":{"datum":"HFD","type":"nominal","bandPosition":0,"scale":{"domain":["Chow","HFD"],"paddingInner":0,"paddingOuter":0.028,"align":0},"axis":null}}},
{"encoding":{"x":{"field":"g","type":"nominal","scale":{"domain":["Chow Veh","Chow Drug","HFD Veh","HFD Drug"],"paddingInner":0.5,"paddingOuter":0.3,"align":0.34},"axis":{"orient":"bottom","labelExpr":"replace(replace(datum.label,'Chow ',''),'HFD ','')","title":null}}},"layer":[
{"mark":{"type":"rule","color":"#555"},"encoding":{"y":{"field":"min","type":"quantitative"},"y2":{"field":"max"}}},
{"mark":{"type":"tick","color":"#555","size":9},"encoding":{"y":{"field":"min","type":"quantitative"}}},
{"mark":{"type":"tick","color":"#555","size":9},"encoding":{"y":{"field":"max","type":"quantitative"}}},
{"mark":{"type":"bar","stroke":"#2a2a2a","strokeWidth":0.8},"encoding":{"y":{"field":"q1","type":"quantitative","scale":{"domain":[0,5],"nice":false},"axis":{"orient":"left","values":[0,1,2,3,4,5],"tickCount":20,"format":".1f","title":null}},"y2":{"field":"q3"},"color":{"field":"ck","type":"nominal","scale":{"domain":["1 Chow Veh","1 Chow Drug","1 HFD Veh","1 HFD Drug","2 Chow Veh","2 Chow Drug","2 HFD Veh","2 HFD Drug"],"range":["#a6f2a0","#0b7a0b","#f9b4f4","#b02cc6","#aeaef2","#1e6ff0","#fdd5a6","#ff6616"]},"legend":null}}},
{"mark":{"type":"tick","color":"#000","size":19.5,"thickness":1.3},"encoding":{"y":{"field":"med","type":"quantitative"}}},
{"mark":{"type":"point","shape":"M-1,0H1M0,-1V1","filled":false,"color":"#000","strokeWidth":1.5,"size":36,"opacity":1},"encoding":{"y":{"field":"mean","type":"quantitative"}}},
{"mark":{"type":"point","shape":"circle","filled":true,"color":"#000","size":9,"opacity":1},"encoding":{"y":{"field":"out","type":"quantitative"}}},
{"transform":[{"filter":"isValid(datum.nb)"}],"mark":{"type":"text","dy":16,"baseline":"middle","color":"#111"},"encoding":{"y":{"field":"min","type":"quantitative"},"text":{"field":"nb"},"size":{"condition":{"test":"datum.nb==='#'","value":12},"value":9}}},
{"transform":[{"filter":"isValid(datum.na)"}],"mark":{"type":"text","dy":-12,"baseline":"middle","color":"#111"},"encoding":{"y":{"field":"max","type":"quantitative"},"text":{"field":"na"},"size":{"condition":{"test":"datum.na==='#'","value":12},"value":9}}}
]}]},
{"width":161,"height":106,"title":"phosphoenolpyruvate","transform":[{"filter":"datum.m==='phosphoenolpyruvate'&&datum.s==='1'"}],"resolve":{"scale":{"x":"independent"}},"layer":[
{"transform":[{"filter":"datum.g==='Chow Veh'"}],"mark":{"type":"rule","strokeDash":[2,2],"color":"#888"},"encoding":{"x":{"datum":"HFD","type":"nominal","bandPosition":0,"scale":{"domain":["Chow","HFD"],"paddingInner":0,"paddingOuter":0.028,"align":0},"axis":null}}},
{"encoding":{"x":{"field":"g","type":"nominal","scale":{"domain":["Chow Veh","Chow Drug","HFD Veh","HFD Drug"],"paddingInner":0.5,"paddingOuter":0.3,"align":0.34},"axis":{"orient":"bottom","labelExpr":"replace(replace(datum.label,'Chow ',''),'HFD ','')","title":null}}},"layer":[
{"mark":{"type":"rule","color":"#555"},"encoding":{"y":{"field":"min","type":"quantitative"},"y2":{"field":"max"}}},
{"mark":{"type":"tick","color":"#555","size":9},"encoding":{"y":{"field":"min","type":"quantitative"}}},
{"mark":{"type":"tick","color":"#555","size":9},"encoding":{"y":{"field":"max","type":"quantitative"}}},
{"mark":{"type":"bar","stroke":"#2a2a2a","strokeWidth":0.8},"encoding":{"y":{"field":"q1","type":"quantitative","scale":{"domain":[0,5],"nice":false},"axis":{"orient":"left","values":[0,1,2,3,4,5],"tickCount":20,"format":".1f","title":null}},"y2":{"field":"q3"},"color":{"field":"ck","type":"nominal","scale":{"domain":["1 Chow Veh","1 Chow Drug","1 HFD Veh","1 HFD Drug","2 Chow Veh","2 Chow Drug","2 HFD Veh","2 HFD Drug"],"range":["#a6f2a0","#0b7a0b","#f9b4f4","#b02cc6","#aeaef2","#1e6ff0","#fdd5a6","#ff6616"]},"legend":null}}},
{"mark":{"type":"tick","color":"#000","size":19.5,"thickness":1.3},"encoding":{"y":{"field":"med","type":"quantitative"}}},
{"mark":{"type":"point","shape":"M-1,0H1M0,-1V1","filled":false,"color":"#000","strokeWidth":1.5,"size":36,"opacity":1},"encoding":{"y":{"field":"mean","type":"quantitative"}}},
{"mark":{"type":"point","shape":"circle","filled":true,"color":"#000","size":9,"opacity":1},"encoding":{"y":{"field":"out","type":"quantitative"}}},
{"transform":[{"filter":"isValid(datum.nb)"}],"mark":{"type":"text","dy":16,"baseline":"middle","color":"#111"},"encoding":{"y":{"field":"min","type":"quantitative"},"text":{"field":"nb"},"size":{"condition":{"test":"datum.nb==='#'","value":12},"value":9}}},
{"transform":[{"filter":"isValid(datum.na)"}],"mark":{"type":"text","dy":-12,"baseline":"middle","color":"#111"},"encoding":{"y":{"field":"max","type":"quantitative"},"text":{"field":"na"},"size":{"condition":{"test":"datum.na==='#'","value":12},"value":9}}}
]}]},
{"width":161,"height":106,"title":"pyruvate","transform":[{"filter":"datum.m==='pyruvate'&&datum.s==='1'"}],"resolve":{"scale":{"x":"independent"}},"layer":[
{"transform":[{"filter":"datum.g==='Chow Veh'"}],"mark":{"type":"rule","strokeDash":[2,2],"color":"#888"},"encoding":{"x":{"datum":"HFD","type":"nominal","bandPosition":0,"scale":{"domain":["Chow","HFD"],"paddingInner":0,"paddingOuter":0.028,"align":0},"axis":null}}},
{"encoding":{"x":{"field":"g","type":"nominal","scale":{"domain":["Chow Veh","Chow Drug","HFD Veh","HFD Drug"],"paddingInner":0.5,"paddingOuter":0.3,"align":0.34},"axis":{"orient":"bottom","labelExpr":"replace(replace(datum.label,'Chow ',''),'HFD ','')","title":null}}},"layer":[
{"mark":{"type":"rule","color":"#555"},"encoding":{"y":{"field":"min","type":"quantitative"},"y2":{"field":"max"}}},
{"mark":{"type":"tick","color":"#555","size":9},"encoding":{"y":{"field":"min","type":"quantitative"}}},
{"mark":{"type":"tick","color":"#555","size":9},"encoding":{"y":{"field":"max","type":"quantitative"}}},
{"mark":{"type":"bar","stroke":"#2a2a2a","strokeWidth":0.8},"encoding":{"y":{"field":"q1","type":"quantitative","scale":{"domain":[0,1.8],"nice":false},"axis":{"orient":"left","values":[0,0.2,0.4,0.6,0.8,1,1.2,1.4,1.6,1.8],"tickCount":20,"format":".1f","title":null}},"y2":{"field":"q3"},"color":{"field":"ck","type":"nominal","scale":{"domain":["1 Chow Veh","1 Chow Drug","1 HFD Veh","1 HFD Drug","2 Chow Veh","2 Chow Drug","2 HFD Veh","2 HFD Drug"],"range":["#a6f2a0","#0b7a0b","#f9b4f4","#b02cc6","#aeaef2","#1e6ff0","#fdd5a6","#ff6616"]},"legend":null}}},
{"mark":{"type":"tick","color":"#000","size":19.5,"thickness":1.3},"encoding":{"y":{"field":"med","type":"quantitative"}}},
{"mark":{"type":"point","shape":"M-1,0H1M0,-1V1","filled":false,"color":"#000","strokeWidth":1.5,"size":36,"opacity":1},"encoding":{"y":{"field":"mean","type":"quantitative"}}},
{"mark":{"type":"point","shape":"circle","filled":true,"color":"#000","size":9,"opacity":1},"encoding":{"y":{"field":"out","type":"quantitative"}}},
{"transform":[{"filter":"isValid(datum.nb)"}],"mark":{"type":"text","dy":16,"baseline":"middle","color":"#111"},"encoding":{"y":{"field":"min","type":"quantitative"},"text":{"field":"nb"},"size":{"condition":{"test":"datum.nb==='#'","value":12},"value":9}}},
{"transform":[{"filter":"isValid(datum.na)"}],"mark":{"type":"text","dy":-12,"baseline":"middle","color":"#111"},"encoding":{"y":{"field":"max","type":"quantitative"},"text":{"field":"na"},"size":{"condition":{"test":"datum.na==='#'","value":12},"value":9}}}
]}]},
{"width":165,"height":106,"transform":[{"filter":"datum.m==='glucose'&&datum.s==='2'"}],"resolve":{"scale":{"x":"independent"}},"layer":[
{"transform":[{"filter":"datum.g==='Chow Veh'"}],"mark":{"type":"rule","strokeDash":[2,2],"color":"#888"},"encoding":{"x":{"datum":"HFD","type":"nominal","bandPosition":0,"scale":{"domain":["Chow","HFD"],"paddingInner":0,"paddingOuter":0.028,"align":0},"axis":{"orient":"bottom","offset":17,"domain":true,"domainColor":"#999","domainDash":[39.3,39.3],"domainDashOffset":60.8,"ticks":true,"tickSize":2,"tickColor":"#999","labelPadding":1,"title":null}}}},
{"encoding":{"x":{"field":"g","type":"nominal","scale":{"domain":["Chow Veh","Chow Drug","HFD Veh","HFD Drug"],"paddingInner":0.5,"paddingOuter":0.3,"align":0.34},"axis":{"orient":"bottom","labelExpr":"replace(replace(datum.label,'Chow ',''),'HFD ','')","title":null}}},"layer":[
{"mark":{"type":"rule","color":"#555"},"encoding":{"y":{"field":"min","type":"quantitative"},"y2":{"field":"max"}}},
{"mark":{"type":"tick","color":"#555","size":9},"encoding":{"y":{"field":"min","type":"quantitative"}}},
{"mark":{"type":"tick","color":"#555","size":9},"encoding":{"y":{"field":"max","type":"quantitative"}}},
{"mark":{"type":"bar","stroke":"#2a2a2a","strokeWidth":0.8},"encoding":{"y":{"field":"q1","type":"quantitative","scale":{"domain":[0,1.8],"nice":false},"axis":{"orient":"left","values":[0,0.2,0.4,0.6,0.8,1,1.2,1.4,1.6,1.8],"tickCount":20,"format":".1f","title":null}},"y2":{"field":"q3"},"color":{"field":"ck","type":"nominal","scale":{"domain":["1 Chow Veh","1 Chow Drug","1 HFD Veh","1 HFD Drug","2 Chow Veh","2 Chow Drug","2 HFD Veh","2 HFD Drug"],"range":["#a6f2a0","#0b7a0b","#f9b4f4","#b02cc6","#aeaef2","#1e6ff0","#fdd5a6","#ff6616"]},"legend":null}}},
{"mark":{"type":"tick","color":"#000","size":19.5,"thickness":1.3},"encoding":{"y":{"field":"med","type":"quantitative"}}},
{"mark":{"type":"point","shape":"M-1,0H1M0,-1V1","filled":false,"color":"#000","strokeWidth":1.5,"size":36,"opacity":1},"encoding":{"y":{"field":"mean","type":"quantitative"}}},
{"mark":{"type":"point","shape":"circle","filled":true,"color":"#000","size":9,"opacity":1},"encoding":{"y":{"field":"out","type":"quantitative"}}},
{"transform":[{"filter":"isValid(datum.nb)"}],"mark":{"type":"text","dy":16,"baseline":"middle","color":"#111"},"encoding":{"y":{"field":"min","type":"quantitative"},"text":{"field":"nb"},"size":{"condition":{"test":"datum.nb==='#'","value":12},"value":9}}},
{"transform":[{"filter":"isValid(datum.na)"}],"mark":{"type":"text","dy":-12,"baseline":"middle","color":"#111"},"encoding":{"y":{"field":"max","type":"quantitative"},"text":{"field":"na"},"size":{"condition":{"test":"datum.na==='#'","value":12},"value":9}}}
]}]},
{"width":161,"height":106,"transform":[{"filter":"datum.m==='3-phosphoglycerate'&&datum.s==='2'"}],"resolve":{"scale":{"x":"independent"}},"layer":[
{"transform":[{"filter":"datum.g==='Chow Veh'"}],"mark":{"type":"rule","strokeDash":[2,2],"color":"#888"},"encoding":{"x":{"datum":"HFD","type":"nominal","bandPosition":0,"scale":{"domain":["Chow","HFD"],"paddingInner":0,"paddingOuter":0.028,"align":0},"axis":{"orient":"bottom","offset":17,"domain":true,"domainColor":"#999","domainDash":[39.3,39.3],"domainDashOffset":60.8,"ticks":true,"tickSize":2,"tickColor":"#999","labelPadding":1,"title":null}}}},
{"encoding":{"x":{"field":"g","type":"nominal","scale":{"domain":["Chow Veh","Chow Drug","HFD Veh","HFD Drug"],"paddingInner":0.5,"paddingOuter":0.3,"align":0.34},"axis":{"orient":"bottom","labelExpr":"replace(replace(datum.label,'Chow ',''),'HFD ','')","title":null}}},"layer":[
{"mark":{"type":"rule","color":"#555"},"encoding":{"y":{"field":"min","type":"quantitative"},"y2":{"field":"max"}}},
{"mark":{"type":"tick","color":"#555","size":9},"encoding":{"y":{"field":"min","type":"quantitative"}}},
{"mark":{"type":"tick","color":"#555","size":9},"encoding":{"y":{"field":"max","type":"quantitative"}}},
{"mark":{"type":"bar","stroke":"#2a2a2a","strokeWidth":0.8},"encoding":{"y":{"field":"q1","type":"quantitative","scale":{"domain":[0,2],"nice":false},"axis":{"orient":"left","values":[0,0.5,1,1.5,2],"tickCount":20,"format":".1f","title":null}},"y2":{"field":"q3"},"color":{"field":"ck","type":"nominal","scale":{"domain":["1 Chow Veh","1 Chow Drug","1 HFD Veh","1 HFD Drug","2 Chow Veh","2 Chow Drug","2 HFD Veh","2 HFD Drug"],"range":["#a6f2a0","#0b7a0b","#f9b4f4","#b02cc6","#aeaef2","#1e6ff0","#fdd5a6","#ff6616"]},"legend":null}}},
{"mark":{"type":"tick","color":"#000","size":19.5,"thickness":1.3},"encoding":{"y":{"field":"med","type":"quantitative"}}},
{"mark":{"type":"point","shape":"M-1,0H1M0,-1V1","filled":false,"color":"#000","strokeWidth":1.5,"size":36,"opacity":1},"encoding":{"y":{"field":"mean","type":"quantitative"}}},
{"mark":{"type":"point","shape":"circle","filled":true,"color":"#000","size":9,"opacity":1},"encoding":{"y":{"field":"out","type":"quantitative"}}},
{"transform":[{"filter":"isValid(datum.nb)"}],"mark":{"type":"text","dy":16,"baseline":"middle","color":"#111"},"encoding":{"y":{"field":"min","type":"quantitative"},"text":{"field":"nb"},"size":{"condition":{"test":"datum.nb==='#'","value":12},"value":9}}},
{"transform":[{"filter":"isValid(datum.na)"}],"mark":{"type":"text","dy":-12,"baseline":"middle","color":"#111"},"encoding":{"y":{"field":"max","type":"quantitative"},"text":{"field":"na"},"size":{"condition":{"test":"datum.na==='#'","value":12},"value":9}}}
]}]},
{"width":161,"height":106,"transform":[{"filter":"datum.m==='phosphoenolpyruvate'&&datum.s==='2'"}],"resolve":{"scale":{"x":"independent"}},"layer":[
{"transform":[{"filter":"datum.g==='Chow Veh'"}],"mark":{"type":"rule","strokeDash":[2,2],"color":"#888"},"encoding":{"x":{"datum":"HFD","type":"nominal","bandPosition":0,"scale":{"domain":["Chow","HFD"],"paddingInner":0,"paddingOuter":0.028,"align":0},"axis":{"orient":"bottom","offset":17,"domain":true,"domainColor":"#999","domainDash":[39.3,39.3],"domainDashOffset":60.8,"ticks":true,"tickSize":2,"tickColor":"#999","labelPadding":1,"title":null}}}},
{"encoding":{"x":{"field":"g","type":"nominal","scale":{"domain":["Chow Veh","Chow Drug","HFD Veh","HFD Drug"],"paddingInner":0.5,"paddingOuter":0.3,"align":0.34},"axis":{"orient":"bottom","labelExpr":"replace(replace(datum.label,'Chow ',''),'HFD ','')","title":null}}},"layer":[
{"mark":{"type":"rule","color":"#555"},"encoding":{"y":{"field":"min","type":"quantitative"},"y2":{"field":"max"}}},
{"mark":{"type":"tick","color":"#555","size":9},"encoding":{"y":{"field":"min","type":"quantitative"}}},
{"mark":{"type":"tick","color":"#555","size":9},"encoding":{"y":{"field":"max","type":"quantitative"}}},
{"mark":{"type":"bar","stroke":"#2a2a2a","strokeWidth":0.8},"encoding":{"y":{"field":"q1","type":"quantitative","scale":{"domain":[0,1.8],"nice":false},"axis":{"orient":"left","values":[0,0.2,0.4,0.6,0.8,1,1.2,1.4,1.6,1.8],"tickCount":20,"format":".1f","title":null}},"y2":{"field":"q3"},"color":{"field":"ck","type":"nominal","scale":{"domain":["1 Chow Veh","1 Chow Drug","1 HFD Veh","1 HFD Drug","2 Chow Veh","2 Chow Drug","2 HFD Veh","2 HFD Drug"],"range":["#a6f2a0","#0b7a0b","#f9b4f4","#b02cc6","#aeaef2","#1e6ff0","#fdd5a6","#ff6616"]},"legend":null}}},
{"mark":{"type":"tick","color":"#000","size":19.5,"thickness":1.3},"encoding":{"y":{"field":"med","type":"quantitative"}}},
{"mark":{"type":"point","shape":"M-1,0H1M0,-1V1","filled":false,"color":"#000","strokeWidth":1.5,"size":36,"opacity":1},"encoding":{"y":{"field":"mean","type":"quantitative"}}},
{"mark":{"type":"point","shape":"circle","filled":true,"color":"#000","size":9,"opacity":1},"encoding":{"y":{"field":"out","type":"quantitative"}}},
{"transform":[{"filter":"isValid(datum.nb)"}],"mark":{"type":"text","dy":16,"baseline":"middle","color":"#111"},"encoding":{"y":{"field":"min","type":"quantitative"},"text":{"field":"nb"},"size":{"condition":{"test":"datum.nb==='#'","value":12},"value":9}}},
{"transform":[{"filter":"isValid(datum.na)"}],"mark":{"type":"text","dy":-12,"baseline":"middle","color":"#111"},"encoding":{"y":{"field":"max","type":"quantitative"},"text":{"field":"na"},"size":{"condition":{"test":"datum.na==='#'","value":12},"value":9}}}
]}]},
{"width":161,"height":106,"transform":[{"filter":"datum.m==='pyruvate'&&datum.s==='2'"}],"resolve":{"scale":{"x":"independent"}},"layer":[
{"transform":[{"filter":"datum.g==='Chow Veh'"}],"mark":{"type":"rule","strokeDash":[2,2],"color":"#888"},"encoding":{"x":{"datum":"HFD","type":"nominal","bandPosition":0,"scale":{"domain":["Chow","HFD"],"paddingInner":0,"paddingOuter":0.028,"align":0},"axis":{"orient":"bottom","offset":17,"domain":true,"domainColor":"#999","domainDash":[39.3,39.3],"domainDashOffset":60.8,"ticks":true,"tickSize":2,"tickColor":"#999","labelPadding":1,"title":null}}}},
{"encoding":{"x":{"field":"g","type":"nominal","scale":{"domain":["Chow Veh","Chow Drug","HFD Veh","HFD Drug"],"paddingInner":0.5,"paddingOuter":0.3,"align":0.34},"axis":{"orient":"bottom","labelExpr":"replace(replace(datum.label,'Chow ',''),'HFD ','')","title":null}}},"layer":[
{"mark":{"type":"rule","color":"#555"},"encoding":{"y":{"field":"min","type":"quantitative"},"y2":{"field":"max"}}},
{"mark":{"type":"tick","color":"#555","size":9},"encoding":{"y":{"field":"min","type":"quantitative"}}},
{"mark":{"type":"tick","color":"#555","size":9},"encoding":{"y":{"field":"max","type":"quantitative"}}},
{"mark":{"type":"bar","stroke":"#2a2a2a","strokeWidth":0.8},"encoding":{"y":{"field":"q1","type":"quantitative","scale":{"domain":[0,3.5],"nice":false},"axis":{"orient":"left","values":[0,0.5,1,1.5,2,2.5,3,3.5],"tickCount":20,"format":".1f","title":null}},"y2":{"field":"q3"},"color":{"field":"ck","type":"nominal","scale":{"domain":["1 Chow Veh","1 Chow Drug","1 HFD Veh","1 HFD Drug","2 Chow Veh","2 Chow Drug","2 HFD Veh","2 HFD Drug"],"range":["#a6f2a0","#0b7a0b","#f9b4f4","#b02cc6","#aeaef2","#1e6ff0","#fdd5a6","#ff6616"]},"legend":null}}},
{"mark":{"type":"tick","color":"#000","size":19.5,"thickness":1.3},"encoding":{"y":{"field":"med","type":"quantitative"}}},
{"mark":{"type":"point","shape":"M-1,0H1M0,-1V1","filled":false,"color":"#000","strokeWidth":1.5,"size":36,"opacity":1},"encoding":{"y":{"field":"mean","type":"quantitative"}}},
{"mark":{"type":"point","shape":"circle","filled":true,"color":"#000","size":9,"opacity":1},"encoding":{"y":{"field":"out","type":"quantitative"}}},
{"transform":[{"filter":"isValid(datum.nb)"}],"mark":{"type":"text","dy":16,"baseline":"middle","color":"#111"},"encoding":{"y":{"field":"min","type":"quantitative"},"text":{"field":"nb"},"size":{"condition":{"test":"datum.nb==='#'","value":12},"value":9}}},
{"transform":[{"filter":"isValid(datum.na)"}],"mark":{"type":"text","dy":-12,"baseline":"middle","color":"#111"},"encoding":{"y":{"field":"max","type":"quantitative"},"text":{"field":"na"},"size":{"condition":{"test":"datum.na==='#'","value":12},"value":9}}}
]}]}
],
"config":{
"font":"Liberation Sans",
"view":{"stroke":"#6b6b6b","strokeWidth":1},
"title":{"fontSize":17,"fontWeight":"normal","offset":2,"baseline":"bottom","color":"#000","anchor":"middle"},
"axisX":{"ticks":false,"domain":false,"labelPadding":4,"labelFontSize":8.5,"labelColor":"#111","labelAngle":0,"grid":false},
"axisY":{"tickSize":3,"tickColor":"#555","labelPadding":2,"labelFontSize":7.5,"labelColor":"#222","domain":false,"grid":false,"labelOverlap":false,"tickCount":20}
}
}
